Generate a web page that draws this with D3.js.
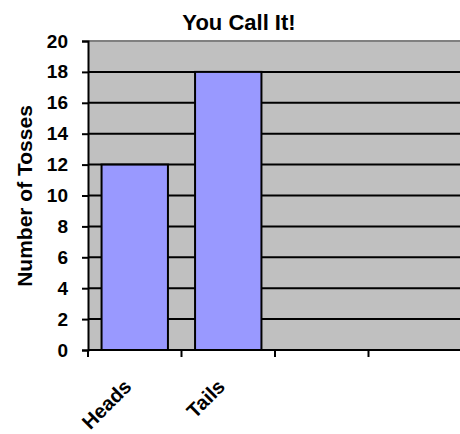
<!DOCTYPE html>
<html><head><meta charset="utf-8">
<script src="https://cdn.jsdelivr.net/npm/d3@7"></script>
<style>body{margin:0;background:#fff}svg{display:block}text{font-family:"Liberation Sans",Arial,sans-serif;font-weight:bold;fill:#000}</style>
</head><body>
<script>
const title = "You Call It!";
const yTitle = "Number of Tosses";
const categories = ["Heads", "Tails", "", ""];
const values = [12, 18, null, null];
const yTicks = [0, 2, 4, 6, 8, 10, 12, 14, 16, 18, 20];

const W = 460, H = 434;
const m = {left: 88, top: 41, right: 462, bottom: 350};
const svg = d3.select("body").append("svg").attr("width", W).attr("height", H);

const idx = categories.map((d, i) => i);
const x = d3.scaleBand().domain(idx).range([m.left, m.right]).paddingInner(0.29).paddingOuter(0.145);
const y = d3.scaleLinear().domain([0, 20]).range([m.bottom, m.top]);
const step = x.step();

// plot background
svg.append("rect").attr("x", m.left).attr("y", m.top).attr("width", m.right - m.left).attr("height", m.bottom - m.top).attr("fill", "#c0c0c0");

// gridlines
svg.append("g").selectAll("line").data(yTicks.filter(t => t > 0)).join("line")
  .attr("x1", m.left).attr("x2", m.right)
  .attr("y1", d => y(d)).attr("y2", d => y(d))
  .attr("stroke", d => d === 20 ? "#808080" : "#000").attr("stroke-width", 2);

// bars
svg.append("g").selectAll("rect").data(idx.filter(i => values[i] != null)).join("rect")
  .attr("x", i => x(i)).attr("width", x.bandwidth())
  .attr("y", i => y(values[i])).attr("height", i => y(0) - y(values[i]))
  .attr("fill", "#9999ff").attr("stroke", "#000").attr("stroke-width", 2);

// y axis
const ya = svg.append("g").attr("transform", `translate(${m.left},0)`)
  .call(d3.axisLeft(y).tickValues(yTicks).tickSize(6).tickPadding(14));
ya.select(".domain").attr("stroke", "#000").attr("stroke-width", 2);
ya.selectAll(".tick line").attr("stroke", "#000").attr("stroke-width", 2);
ya.selectAll(".tick text").attr("font-size", 19).attr("font-family", null);

// x axis line and ticks at category boundaries
svg.append("line").attr("x1", m.left).attr("x2", m.right).attr("y1", m.bottom).attr("y2", m.bottom).attr("stroke", "#000").attr("stroke-width", 2);
svg.append("g").selectAll("line").data(idx).join("line")
  .attr("x1", i => x(i) - step * 0.145).attr("x2", i => x(i) - step * 0.145)
  .attr("y1", m.bottom).attr("y2", m.bottom + 7)
  .attr("stroke", "#000").attr("stroke-width", 2);

// category labels
svg.append("g").selectAll("text").data(idx).join("text")
  .attr("transform", i => `translate(${x(i) + x.bandwidth() / 2 - 7},${m.bottom + 33}) rotate(-45)`)
  .attr("text-anchor", "end").attr("dy", "0.35em").attr("font-size", 20)
  .text(i => categories[i]);

// title
svg.append("text").attr("x", 239).attr("y", 30).attr("text-anchor", "middle").attr("font-size", 22).text(title);

// y title
svg.append("text").attr("transform", `translate(32,196) rotate(-90)`).attr("text-anchor", "middle").attr("font-size", 21).text(yTitle);
</script>
</body></html>
